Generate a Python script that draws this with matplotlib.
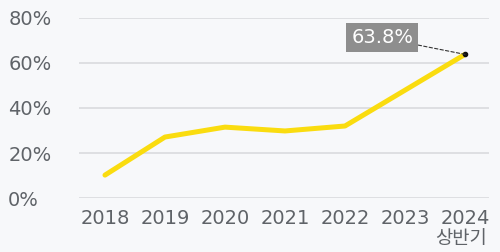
import matplotlib.pyplot as plt

years = ['2018', '2019', '2020', '2021', '2022', '2023', '2024']
rates = [10.2, 27.1, 31.5, 29.8, 32.0, 47.9, 63.8]
yticks = [0, 20, 40, 60, 80]
sub_label = '상반기'

plt.rcParams['font.family'] = ['DejaVu Sans', 'Noto Sans CJK KR']

bg = '#f7f8fa'
txt = '#5f6368'
fig = plt.figure(figsize=(5, 2.52), dpi=100, facecolor=bg)
ax = fig.add_axes([0.158, 0.214, 0.82, 0.715], facecolor=bg)

x = list(range(len(years)))
ax.plot(x, rates, color='#fadc0f', lw=3.6, solid_capstyle='round', solid_joinstyle='round', zorder=3)
ax.plot(x[-1], rates[-1], 'o', color='#111111', ms=3, zorder=4)

ax.annotate('63.8%', xy=(x[-1], rates[-1]), xytext=(4.62, 71.1),
            ha='center', va='center', color='white', fontsize=14,
            bbox=dict(boxstyle='square,pad=0.26', fc='#8e8e8e', ec='none'),
            arrowprops=dict(arrowstyle='-', ls=(0, (3, 2)), color='#333333', lw=0.8,
                            shrinkA=0, shrinkB=0), zorder=5)

ax.set_xlim(-0.433, 6.4)
ax.set_ylim(0, 80)
ax.set_yticks(yticks)
ax.set_yticklabels([f'{v}%' for v in yticks], ha='left')
ax.set_xticks(x)
ax.set_xticklabels(years)
ax.tick_params(axis='y', length=0, pad=51, labelsize=14, labelcolor=txt)
ax.tick_params(axis='x', length=0, pad=8, labelsize=14, labelcolor=txt)

ax.grid(axis='y', color='#dcdde0', lw=1.3)
ax.set_axisbelow(True)
for s in ax.spines.values():
    s.set_visible(False)

ax.text(6.37, -0.225, sub_label, transform=ax.get_xaxis_transform(),
        ha='right', va='center', fontsize=13.5, color=txt)

fig.savefig('out.png', dpi=100, facecolor=bg)
